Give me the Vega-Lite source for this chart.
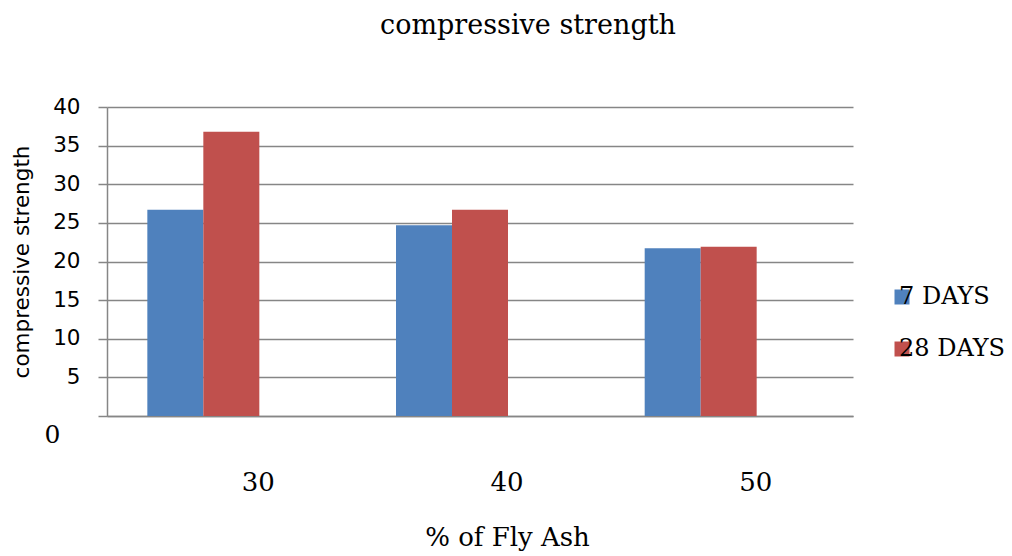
{
  "$schema": "https://vega.github.io/schema/vega-lite/v6.json",
  "width": 746,
  "height": 309,
  "autosize": {"type": "none"},
  "padding": {"left": 107, "top": 107, "right": 159, "bottom": 140},
  "background": "white",
  "title": {
    "text": "compressive strength",
    "font": "DejaVu Serif",
    "fontSize": 27,
    "fontWeight": "normal",
    "color": "black",
    "anchor": "middle",
    "frame": "group",
    "dx": 48,
    "baseline": "alphabetic",
    "offset": 35
  },
  "data": {
    "values": [
      {"ash": "30", "age": "7 DAYS", "strength": 26.7},
      {"ash": "30", "age": "28 DAYS", "strength": 36.8},
      {"ash": "40", "age": "7 DAYS", "strength": 24.7},
      {"ash": "40", "age": "28 DAYS", "strength": 26.7},
      {"ash": "50", "age": "7 DAYS", "strength": 21.7},
      {"ash": "50", "age": "28 DAYS", "strength": 21.9}
    ]
  },
  "mark": {"type": "bar"},
  "encoding": {
    "x": {
      "field": "ash",
      "type": "nominal",
      "scale": {"paddingInner": 0.3245, "paddingOuter": 0.1622},
      "axis": {
        "title": "% of Fly Ash",
        "titleFont": "DejaVu Serif",
        "titleFontSize": 26,
        "titleFontWeight": "normal",
        "titleColor": "black",
        "titleX": 400,
        "titleY": 121,
        "titleBaseline": "middle",
        "titleAlign": "center",
        "labelFont": "DejaVu Serif",
        "labelFontSize": 26,
        "labelColor": "black",
        "labelAngle": 0,
        "labelOffset": 27,
        "labelPadding": 53,
        "ticks": false,
        "tickSize": 0,
        "domain": true,
        "domainColor": "#868686",
        "domainWidth": 1.5,
        "grid": false
      }
    },
    "xOffset": {
      "field": "age",
      "type": "nominal",
      "scale": {"domain": ["7 DAYS", "28 DAYS", "-"], "paddingInner": 0, "paddingOuter": 0}
    },
    "y": {
      "field": "strength",
      "type": "quantitative",
      "scale": {"domain": [0, 40], "nice": false},
      "axis": {
        "title": "compressive strength",
        "titleFont": "DejaVu Sans",
        "titleFontSize": 21.5,
        "titleFontWeight": "normal",
        "titleColor": "black",
        "titleX": -85,
        "titleY": 154.5,
        "titleBaseline": "middle",
        "titleAlign": "center",
        "values": [0, 5, 10, 15, 20, 25, 30, 35, 40],
        "labelFont": {"condition": {"test": "datum.value === 0", "value": "DejaVu Serif"}, "value": "DejaVu Sans"},
        "labelFontSize": {"condition": {"test": "datum.value === 0", "value": 25}, "value": 21.5},
        "labelPadding": {"condition": {"test": "datum.value === 0", "value": 38}, "value": 18},
        "labelOffset": {"condition": {"test": "datum.value === 0", "value": 18}, "value": 0},
        "labelColor": "black",
        "labelFlush": false,
        "labelOverlap": false,
        "tickSize": 9,
        "tickColor": "#868686",
        "tickWidth": 1.5,
        "domainColor": "#868686",
        "domainWidth": 1.5,
        "gridColor": "#868686",
        "gridWidth": 1.5
      }
    },
    "color": {
      "field": "age",
      "type": "nominal",
      "scale": {"domain": ["7 DAYS", "28 DAYS"], "range": ["#4F81BD", "#C0504D"]},
      "legend": {
        "orient": "none",
        "legendX": 783,
        "legendY": 178,
        "title": null,
        "symbolType": "square",
        "symbolSize": 225,
        "symbolStrokeWidth": 0,
        "labelFont": "DejaVu Serif",
        "labelFontSize": 24,
        "labelColor": "black",
        "labelOffset": -15,
        "rowPadding": 28,
        "padding": 0
      }
    }
  },
  "config": {"view": {"stroke": null}}
}
